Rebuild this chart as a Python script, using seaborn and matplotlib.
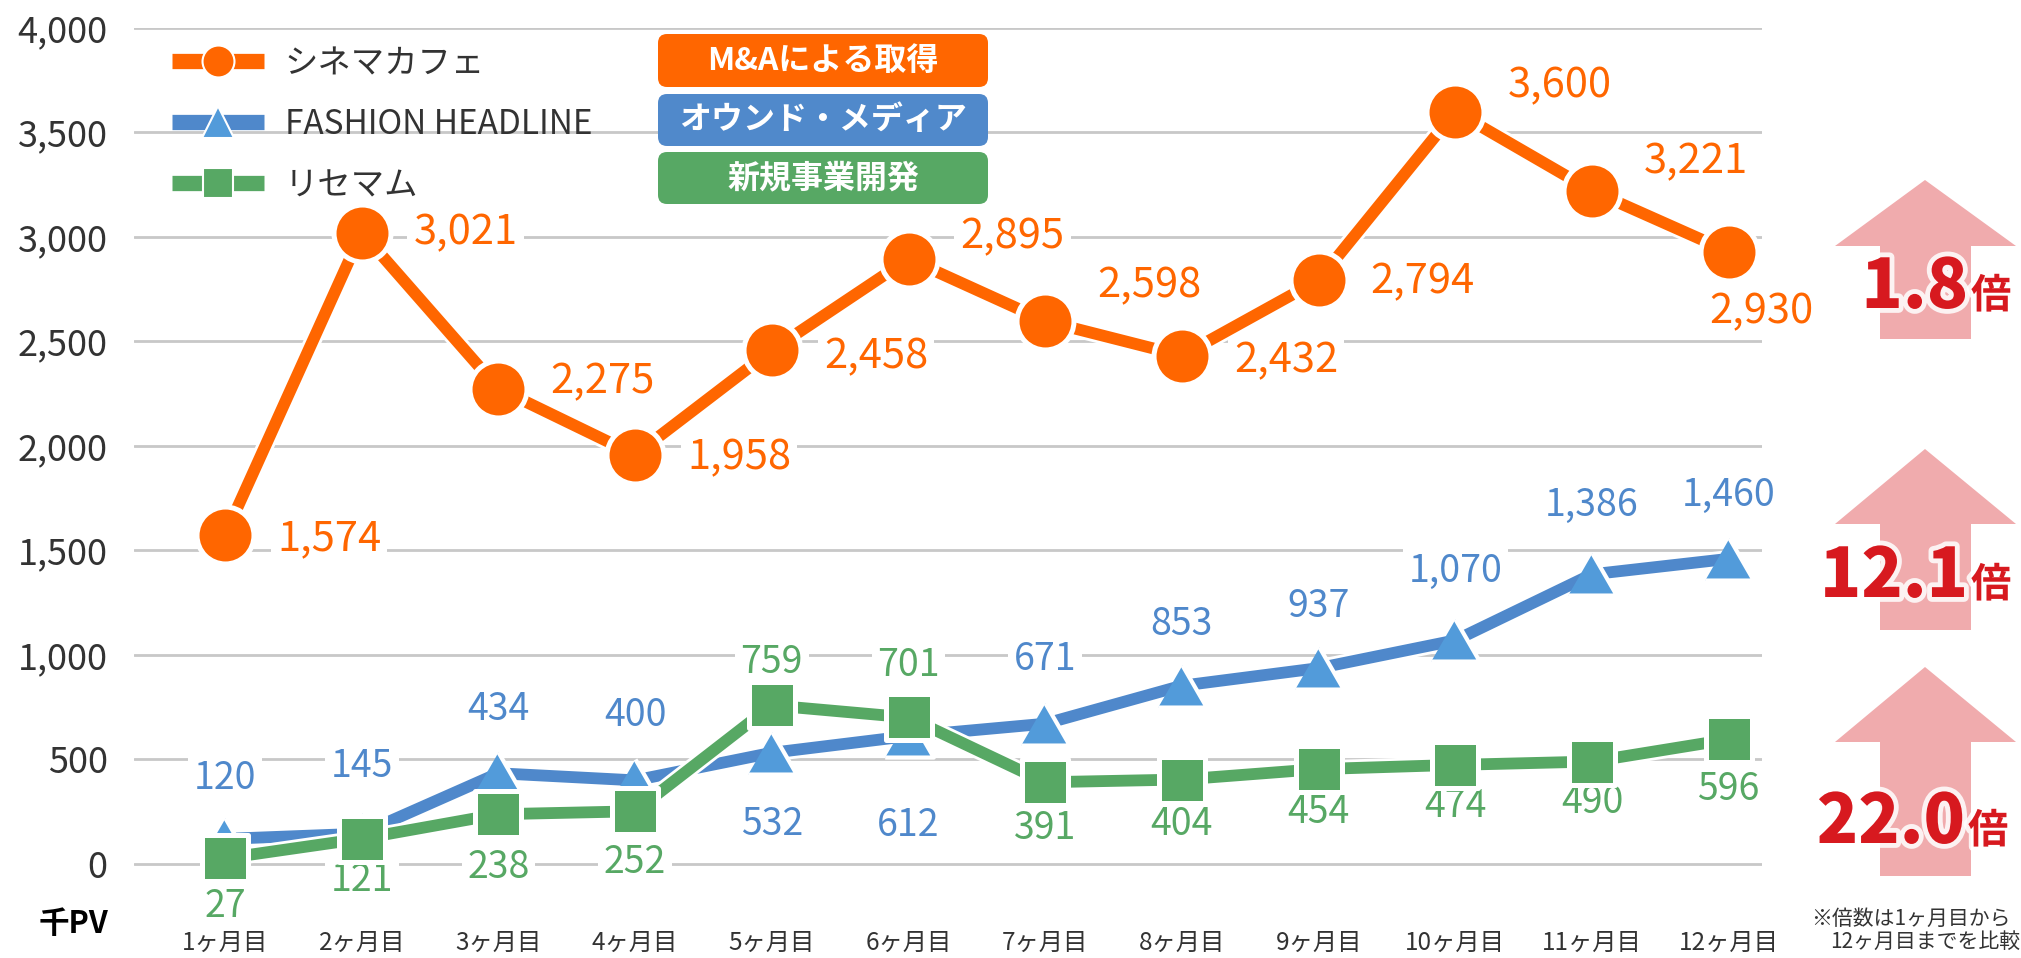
import numpy as np
import pandas as pd
import matplotlib.pyplot as plt
import matplotlib.patheffects as pe
from matplotlib.lines import Line2D
from matplotlib.patches import FancyBboxPatch, Polygon
import seaborn as sns

# data (千PV)
months = ['1ヶ月目', '2ヶ月目', '3ヶ月目', '4ヶ月目', '5ヶ月目', '6ヶ月目',
          '7ヶ月目', '8ヶ月目', '9ヶ月目', '10ヶ月目', '11ヶ月目', '12ヶ月目']
cinema = [1574, 3021, 2275, 1958, 2458, 2895, 2598, 2432, 2794, 3600, 3221, 2930]
fashion = [120, 145, 434, 400, 532, 612, 671, 853, 937, 1070, 1386, 1460]
risemam = [27, 121, 238, 252, 759, 701, 391, 404, 454, 474, 490, 596]
series_names = ['シネマカフェ', 'FASHION HEADLINE', 'リセマム']
badge_texts = ['M&Aによる取得', 'オウンド・メディア', '新規事業開発']
growth = ['1.8', '12.1', '22.0']
yticks = [0, 500, 1000, 1500, 2000, 2500, 3000, 3500, 4000]

ORANGE = '#FF6600'
BLUE = '#4F88CB'
BLUE_MK = '#529BDA'
GREEN = '#57A864'
RED = '#D7191F'
PINK = '#F0ABAD'
TXT = '#333333'

PX = 0.72  # pixel -> point at dpi 100

sns.set_style('white')
plt.rcParams['font.family'] = ['Noto Sans CJK JP', 'DejaVu Sans']

fig = plt.figure(figsize=(20.21, 9.58), dpi=100)
ax = fig.add_axes([134 / 2021, 28 / 958, (1762 - 134) / 2021, (930 - 28) / 958])

idx = np.arange(len(months))
df = pd.DataFrame({'idx': idx, 'cinema': cinema, 'fashion': fashion, 'risemam': risemam})

# label offsets in pixels (dx, dy up)
off_cinema = [(52, -4), (52, 0), (52, 7), (52, -3), (52, -6), (52, 22),
              (52, 35), (52, -5), (52, -2), (52, 26), (52, 29), (33, -60)]
off_fashion = [60, 67, 64, 65, -72, -89, 64, 61, 62, 69, 69, 63]
off_risemam = [-48, -42, -53, -51, 43, 52, -46, -45, -43, -42, -41, -50]

tri = [(-1, -0.866), (1, -0.866), (0, 0.866)]
specs = [
    ('cinema', ORANGE, ORANGE, 'o', 41, 3.6),
    ('fashion', BLUE, BLUE_MK, tri, 35, 3.0),
    ('risemam', GREEN, GREEN, 's', 33, 3.6),
]

lbl_box = dict(boxstyle='square,pad=0.15', fc='white', ec='none')

for k, (col, c, mc, mk, ms, mew) in enumerate(specs):
    z = 3 + 2 * k
    sns.lineplot(data=df, x='idx', y=col, color=c, linewidth=8.5, ax=ax,
                 zorder=z, legend=False, solid_capstyle='butt',
                 path_effects=[pe.Stroke(linewidth=12.5, foreground='white'), pe.Normal()])
    sns.scatterplot(data=df, x='idx', y=col, marker=mk, s=ms ** 2, color=mc,
                    edgecolor='white', linewidth=mew, ax=ax, zorder=z + 1, legend=False)

for i, v in enumerate(cinema):
    dx, dy = off_cinema[i]
    ax.annotate(f'{v:,}', xy=(i, v), xytext=(dx * PX, dy * PX), textcoords='offset points',
                ha='left' if i < 11 else 'center', va='center', color=ORANGE,
                fontsize=30, zorder=1.5, bbox=lbl_box)
for i, v in enumerate(fashion):
    ax.annotate(f'{v:,}', xy=(i, v), xytext=(0, off_fashion[i] * PX), textcoords='offset points',
                ha='center', va='center', color=BLUE, fontsize=27, zorder=1.5, bbox=lbl_box)
for i, v in enumerate(risemam):
    ax.annotate(f'{v:,}', xy=(i, v), xytext=(0, off_risemam[i] * PX), textcoords='offset points',
                ha='center', va='center', color=GREEN, fontsize=27, zorder=1.5, bbox=lbl_box)

ax.set_xlim(-0.6657, 11.2436)
ax.set_ylim(-316, 4000)
ax.set_xticks(idx)
ax.set_xticklabels(months)
ax.set_yticks(yticks)
ax.set_yticklabels([f'{t:,}' for t in yticks])
ax.tick_params(axis='x', length=0, pad=0, labelsize=17.5, labelcolor=TXT)
ax.tick_params(axis='y', length=0, pad=19, labelsize=26, labelcolor=TXT)
ax.set_xlabel('')
ax.set_ylabel('')
ax.set_axisbelow(True)
ax.yaxis.grid(True, color='#C8C8C8', linewidth=2)
ax.xaxis.grid(False)
sns.despine(ax=ax, left=True, bottom=True)

handles = [
    Line2D([], [], color=ORANGE, lw=11, solid_capstyle='butt', marker='o', markersize=23,
           markeredgecolor='white', markeredgewidth=1.5),
    Line2D([], [], color=BLUE, lw=11, solid_capstyle='butt', marker='^', markersize=23,
           markerfacecolor=BLUE_MK, markeredgecolor='white', markeredgewidth=1.5),
    Line2D([], [], color=GREEN, lw=11, solid_capstyle='butt', marker='s', markersize=21,
           markeredgecolor='white', markeredgewidth=1.5),
]
ax.legend(handles, series_names, loc='upper left', bbox_to_anchor=(172 / 2021, 1 - 46 / 958),
          bbox_transform=fig.transFigure, frameon=False, fontsize=24, labelcolor=TXT,
          handlelength=2.75, handletextpad=0.63, labelspacing=0.78, borderpad=0, borderaxespad=0)

# overlay in pixel coordinates for badges, arrows and notes
oax = fig.add_axes([0, 0, 1, 1], zorder=5)
oax.set_xlim(0, 2021)
oax.set_ylim(958, 0)
oax.axis('off')

badge_cols = [ORANGE, '#5089CB', GREEN]
badge_y = [(34, 87), (94, 146), (152, 204)]
for t, c, (y0, y1) in zip(badge_texts, badge_cols, badge_y):
    oax.add_patch(FancyBboxPatch((658, y0), 330, y1 - y0,
                                 boxstyle='round,pad=0,rounding_size=9', fc=c, ec='none'))
    oax.text(823, (y0 + y1) / 2, t, ha='center', va='center', color='white',
             fontsize=23, fontweight='bold')

arrows = [(180, 246, 339), (449, 524, 630), (667, 742, 876)]
for tip, base, bottom in arrows:
    oax.add_patch(Polygon([(1925, tip), (2016, base), (1971, base), (1971, bottom),
                           (1880, bottom), (1880, base), (1835, base)],
                          closed=True, fc=PINK, ec='none'))

glow = [pe.withStroke(linewidth=7, foreground='white', alpha=0.85)]
growth_pos = [(1968, 308), (1968, 597), (1965, 843)]
for g, (x, y) in zip(growth, growth_pos):
    oax.text(x, y, g, ha='right', va='baseline', color=RED, fontsize=49,
             fontweight='black', path_effects=glow)
    oax.text(x + 3, y, '倍', ha='left', va='baseline', color=RED, fontsize=29,
             fontweight='bold', path_effects=glow)

oax.text(1811, 919, '※倍数は1ヶ月目から', ha='left', va='center', fontsize=15, color=TXT)
oax.text(1830, 942, '12ヶ月目までを比較', ha='left', va='center', fontsize=15, color=TXT)
oax.text(73, 924, '千PV', ha='center', va='center', fontsize=22, fontweight='bold', color='black')

fig.savefig('out.png', dpi=100)
